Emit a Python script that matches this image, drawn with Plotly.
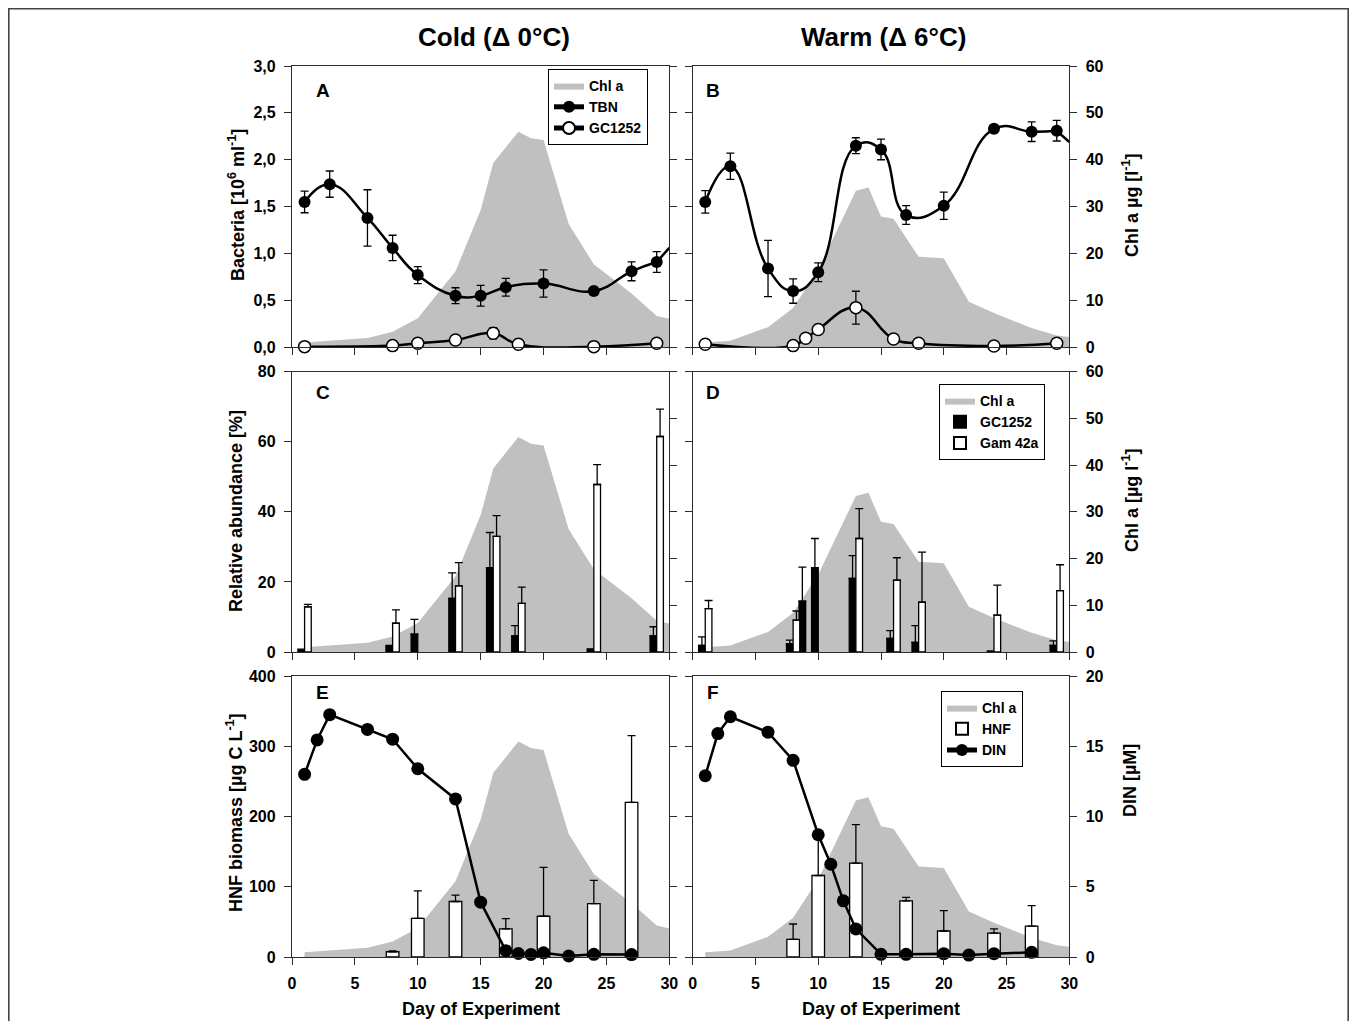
import numpy as np
import plotly.graph_objects as go

# The page keeps an 8px body margin, so the figure is 16px smaller than the window
OFF = 8
W, H = 1357 - 2 * OFF, 1029 - 2 * OFF

# ---------------- DATA ----------------
# Chlorophyll a (µg/l) – shaded area, same in each column
chl_cold_days = [1, 6, 8, 10, 13, 15, 16, 18, 19, 20, 22, 24, 27, 29, 30]
chl_cold = [1.0, 2.0, 3.3, 6.2, 16.2, 29.3, 39.3, 46.0, 44.6, 44.2, 26.3, 17.7, 11.5, 6.7, 6.1]
chl_warm_days = [1, 3, 6, 8, 10, 13, 14, 15, 16, 18, 20, 22, 24, 27, 29, 30]
chl_warm = [1.0, 1.4, 4.3, 8.4, 16.6, 33.4, 34.1, 27.9, 27.4, 19.3, 19.0, 9.7, 7.3, 4.1, 2.5, 2.2]

# Total bacterial numbers (10^6 / ml)
tbn_days = [1, 3, 6, 8, 10, 13, 15, 17, 20, 24, 27, 29]
tbn_cold = [1.55, 1.74, 1.38, 1.06, 0.77, 0.55, 0.55, 0.64, 0.68, 0.60, 0.81, 0.91]
tbn_cold_err = [0.115, 0.14, 0.30, 0.135, 0.09, 0.085, 0.11, 0.095, 0.145, 0.03, 0.10, 0.11]
tbn_warm = [1.55, 1.93, 0.84, 0.60, 0.80, 2.15, 2.11, 1.41, 1.51, 2.33, 2.30, 2.31]
tbn_warm_err = [0.12, 0.14, 0.30, 0.13, 0.10, 0.085, 0.11, 0.10, 0.145, 0.04, 0.105, 0.11]
# end of the fitted curve at the right border (day 30)
tbn_tail_day = 30
tbn_cold_tail = 1.06
tbn_warm_tail = 2.19

# GC1252 cell numbers (10^6 / ml)
gc_cold_days = [1, 8, 10, 13, 16, 18, 24, 29]
gc_cold = [0.007, 0.018, 0.043, 0.078, 0.149, 0.032, 0.007, 0.043]
gc_cold_err = [None, None, None, None, 0.06, None, None, None]
gc_warm_days = [1, 8, 9, 10, 13, 16, 18, 24, 29]
gc_warm = [0.032, 0.018, 0.096, 0.19, 0.423, 0.089, 0.043, 0.014, 0.043]
gc_warm_err = [None, None, 0.02, None, 0.175, 0.025, 0.03, None, None]

# Relative abundance (%)
rel_cold_days = [1, 8, 10, 13, 16, 18, 24, 29]
rel_gc_cold = [0.8, 1.9, 5.1, 15.3, 24.1, 4.6, 0.9, 4.6]
rel_gc_cold_err = [None, None, 4.2, 7.3, 10.0, 2.9, None, 2.6]
rel_gam_cold = [12.9, 8.2, None, 18.9, 33.0, 13.9, 47.8, 61.5]
rel_gam_cold_err = [0.7, 3.8, None, 6.6, 5.9, 4.6, 5.7, 7.8]

rel_warm_days = [1, 8, 9, 10, 13, 16, 18, 24, 29]
rel_gc_warm = [1.9, 2.3, 14.5, 24.1, 21.0, 3.9, 2.75, 0.3, 1.9]
rel_gc_warm_err = [2.4, 1.1, 9.7, 8.3, 6.5, 2.2, 4.75, None, 1.3]
rel_gam_warm = [12.4, 9.1, None, None, 32.4, 20.5, 14.2, 10.5, 17.5]
rel_gam_warm_err = [2.3, 2.6, None, None, 8.5, 6.4, 14.3, 8.6, 7.4]

# HNF biomass (µg C / L)
hnf_days = [8, 10, 13, 17, 20, 24, 27]
hnf_cold = [7.5, 55, 79, 40, 58, 76, 220]
hnf_cold_err = [1.2, 39, 9, 14.5, 69.5, 33, 95]
hnf_warm = [25, 116, 133.5, 80, 37, 34, 44]
hnf_warm_err = [22, 56, 55, 5, 29, 6, 29]

# DIN (µM)
din_cold_days = [1, 2, 3, 6, 8, 10, 13, 15, 17, 18, 19, 20, 22, 24, 27]
din_cold = [13.0, 15.45, 17.25, 16.2, 15.5, 13.4, 11.25, 3.9, 0.45, 0.25, 0.18, 0.3, 0.07, 0.19, 0.17]
din_warm_days = [1, 2, 3, 6, 8, 10, 11, 12, 13, 15, 17, 20, 22, 24, 27]
din_warm = [12.9, 15.9, 17.1, 16.0, 14.0, 8.7, 6.6, 4.0, 2.0, 0.19, 0.19, 0.24, 0.14, 0.24, 0.33]

x_ticks = [0, 5, 10, 15, 20, 25, 30]

# ---------------- STYLE ----------------
FONT = "Liberation Sans, Arial, sans-serif"
LC = "#2b2b2b"
GRAY = "#c0c0c0"
TF = dict(family=FONT, size=16, color="black", weight="bold")
SMOOTH = 1.3


def px(x):
    return (x - OFF) / W


def py(y):
    return 1 - (y - OFF) / H


def nanarr(v):
    return np.array([np.nan if e is None else e for e in v], dtype=float)


XL = [px(292), px(669.3)]
XR = [px(692.7), px(1069.3)]
ROW_A = [py(347.3), py(66)]
ROW_C = [py(652), py(371.7)]
ROW_E = [py(957), py(676)]

fig = go.Figure()


def chl_trace(days, vals, xa, ya, legend=None):
    fig.add_trace(go.Scatter(
        x=days, y=vals, xaxis=xa, yaxis=ya, mode="lines", fill="tozeroy",
        fillcolor=GRAY, line=dict(width=0, color=GRAY), name="Chl a",
        showlegend=legend is not None, legend=legend or "legend", hoverinfo="skip"))


def tbn_traces(days, vals, err, tail, xa, ya, legend=None):
    fig.add_trace(go.Scatter(
        x=days, y=vals, xaxis=xa, yaxis=ya,
        mode="lines+markers", line=dict(shape="spline", smoothing=SMOOTH, color="black", width=2.5),
        marker=dict(size=12, color="black"), cliponaxis=False,
        name="TBN", showlegend=legend is not None, legend=legend or "legend",
        error_y=dict(type="data", array=err, symmetric=True, color="black", thickness=1.3, width=4)))
    # curve running out to the right border
    fig.add_trace(go.Scatter(
        x=[days[-1], tbn_tail_day], y=[vals[-1], tail], xaxis=xa, yaxis=ya, mode="lines",
        line=dict(color="black", width=2.5), showlegend=False))


def gc_trace(days, vals, err, xa, ya, legend=None):
    fig.add_trace(go.Scatter(
        x=days, y=vals, xaxis=xa, yaxis=ya, mode="lines+markers",
        line=dict(shape="spline", smoothing=SMOOTH, color="black", width=2.5),
        marker=dict(size=12, color="white", line=dict(color="black", width=1.5)),
        cliponaxis=False, name="GC1252", showlegend=legend is not None, legend=legend or "legend",
        error_y=dict(type="data", array=nanarr(err), symmetric=True, color="black", thickness=1.3, width=4)))


def bar_trace(days, vals, err, color, name, xa, ya, width, offset, legend=None):
    fig.add_trace(go.Bar(
        x=days, y=vals, xaxis=xa, yaxis=ya, width=width, offset=offset,
        marker=dict(color=color, line=dict(color="black", width=1.3)),
        name=name, showlegend=legend is not None, legend=legend or "legend",
        error_y=dict(type="data", array=nanarr(err), symmetric=False, color="black", thickness=1.3, width=4)))


def din_trace(days, vals, xa, ya, legend=None):
    fig.add_trace(go.Scatter(
        x=days, y=vals, xaxis=xa, yaxis=ya, mode="lines+markers",
        line=dict(color="black", width=2.5), marker=dict(size=13, color="black"),
        cliponaxis=False, name="DIN", showlegend=legend is not None, legend=legend or "legend"))


# Panel A
chl_trace(chl_cold_days, chl_cold, "x", "y", legend="legend")
tbn_traces(tbn_days, tbn_cold, tbn_cold_err, tbn_cold_tail, "x", "y2", legend="legend")
gc_trace(gc_cold_days, gc_cold, gc_cold_err, "x", "y2", legend="legend")
# Panel B
chl_trace(chl_warm_days, chl_warm, "x2", "y3")
tbn_traces(tbn_days, tbn_warm, tbn_warm_err, tbn_warm_tail, "x2", "y4")
gc_trace(gc_warm_days, gc_warm, gc_warm_err, "x2", "y4")
# Panel C
BW = 0.53
chl_trace(chl_cold_days, chl_cold, "x3", "y5")
bar_trace(rel_cold_days, rel_gc_cold, rel_gc_cold_err, "black", "GC1252", "x3", "y6", BW, -BW)
bar_trace(rel_cold_days, rel_gam_cold, rel_gam_cold_err, "white", "Gam 42a", "x3", "y6", BW, 0)
# Panel D
chl_trace(chl_warm_days, chl_warm, "x4", "y7", legend="legend2")
bar_trace(rel_warm_days, rel_gc_warm, rel_gc_warm_err, "black", "GC1252", "x4", "y8", BW, -BW, legend="legend2")
bar_trace(rel_warm_days, rel_gam_warm, rel_gam_warm_err, "white", "Gam 42a", "x4", "y8", BW, 0, legend="legend2")
# Panel E
chl_trace(chl_cold_days, chl_cold, "x5", "y9")
bar_trace(hnf_days, hnf_cold, hnf_cold_err, "white", "HNF", "x5", "y10", 1.0, -0.5)
din_trace(din_cold_days, din_cold, "x5", "y11")
# Panel F
chl_trace(chl_warm_days, chl_warm, "x6", "y12", legend="legend3")
bar_trace(hnf_days, hnf_warm, hnf_warm_err, "white", "HNF", "x6", "y13", 1.0, -0.5, legend="legend3")
din_trace(din_warm_days, din_warm, "x6", "y14", legend="legend3")

# ---------------- AXES ----------------
AX = dict(showline=True, linecolor=LC, linewidth=1.3, ticks="outside", ticklen=7, tickwidth=1.3,
          tickcolor=LC, showgrid=False, zeroline=False, tickfont=TF, ticklabelstandoff=5,
          automargin=False)


def xax(domain, anchor, labels):
    return dict(domain=domain, anchor=anchor, range=[0, 30], tickvals=x_ticks, mirror=True,
                showticklabels=labels, **AX)


def yax(anchor, side, rng, dtick, labels, domain=None, overlaying=None, fmt=None, visible=True):
    d = dict(anchor=anchor, side=side, range=rng, tick0=0, dtick=dtick, showticklabels=labels,
             visible=visible, **AX)
    if domain is not None:
        d["domain"] = domain
    if overlaying is not None:
        d["overlaying"] = overlaying
    if fmt:
        d["tickformat"] = fmt
    return d


layout_axes = dict(
    xaxis=xax(XL, "y", False),
    yaxis=yax("x", "right", [0, 60], 10, False, domain=ROW_A),
    yaxis2=yax("x", "left", [0, 3], 0.5, True, overlaying="y", fmt=".1f"),
    xaxis2=xax(XR, "y3", False),
    yaxis3=yax("x2", "right", [0, 60], 10, True, domain=ROW_A),
    yaxis4=yax("x2", "left", [0, 3], 0.5, False, overlaying="y3"),
    xaxis3=xax(XL, "y5", False),
    yaxis5=yax("x3", "right", [0, 60], 10, False, domain=ROW_C),
    yaxis6=yax("x3", "left", [0, 80], 20, True, overlaying="y5"),
    xaxis4=xax(XR, "y7", False),
    yaxis7=yax("x4", "right", [0, 60], 10, True, domain=ROW_C),
    yaxis8=yax("x4", "left", [0, 80], 20, False, overlaying="y7"),
    xaxis5=xax(XL, "y9", True),
    yaxis9=yax("x5", "right", [0, 60], 10, False, domain=ROW_E, visible=False),
    yaxis10=yax("x5", "left", [0, 400], 100, True, overlaying="y9"),
    yaxis11=yax("x5", "right", [0, 20], 5, False, overlaying="y9"),
    xaxis6=xax(XR, "y12", True),
    yaxis12=yax("x6", "right", [0, 60], 10, False, domain=ROW_E, visible=False),
    yaxis13=yax("x6", "left", [0, 400], 100, False, overlaying="y12"),
    yaxis14=yax("x6", "right", [0, 20], 5, True, overlaying="y12"),
)


def legend_box(x, y):
    return dict(x=px(x), y=py(y), xanchor="left", yanchor="top", xref="paper", yref="paper",
                bgcolor="white", bordercolor="black", borderwidth=1, itemsizing="constant",
                font=dict(family=FONT, size=14, color="black", weight="bold"), tracegroupgap=0,
                itemwidth=30)


def ann(text, x, y, size, angle=0):
    return dict(text=text, x=px(x), y=py(y), xref="paper", yref="paper", showarrow=False,
                xanchor="center", yanchor="middle", textangle=angle, borderpad=0,
                font=dict(family=FONT, size=size, color="black", weight="bold"))


annotations = [
    ann("Cold (\u0394 0\u00b0C)", 494, 37, 26),
    ann("Warm (\u0394 6\u00b0C)", 883, 37, 26),
    ann("A", 323, 90, 19), ann("B", 713, 90, 19),
    ann("C", 323, 392, 19), ann("D", 713, 392, 19),
    ann("E", 322, 692, 19), ann("F", 713, 692, 19),
    ann("Bacteria [10<sup>6</sup> ml<sup>-1</sup>]", 236, 205, 18, -90),
    ann("Relative abundance [%]", 236, 511, 18, -90),
    ann("HNF biomass [\u00b5g C L<sup>-1</sup>]", 234, 813, 18, -90),
    ann("Chl a \u00b5g [l<sup>-1</sup>]", 1130, 205, 18, -90),
    ann("Chl a [\u00b5g l<sup>-1</sup>]", 1130, 500, 18, -90),
    ann("DIN [\u00b5M]", 1130, 781, 18, -90),
    ann("Day of Experiment", 481, 1009, 18),
    ann("Day of Experiment", 881, 1009, 18),
]

# outer frame (left, top and right sides; the bottom runs past the page)
fl, ft, fr = 0.8 / W, 1 - 0.8 / H, 1 - 0.8 / W
frame = dict(type="path", xref="paper", yref="paper",
             path="M %f,0 L %f,%f L %f,%f L %f,0" % (fl, fl, ft, fr, ft, fr),
             line=dict(color="#444444", width=1.6), layer="below")

fig.update_layout(
    width=W, height=H, margin=dict(l=0, r=0, t=0, b=0, pad=0, autoexpand=False),
    paper_bgcolor="white", plot_bgcolor="white", separators=", ",
    barmode="overlay", showlegend=True, hovermode=False,
    legend=legend_box(548, 69), legend2=legend_box(939, 384), legend3=legend_box(941, 691),
    annotations=annotations,
    shapes=[frame],
    **layout_axes,
)

fig.write_html("out.html", config={"displayModeBar": False})
